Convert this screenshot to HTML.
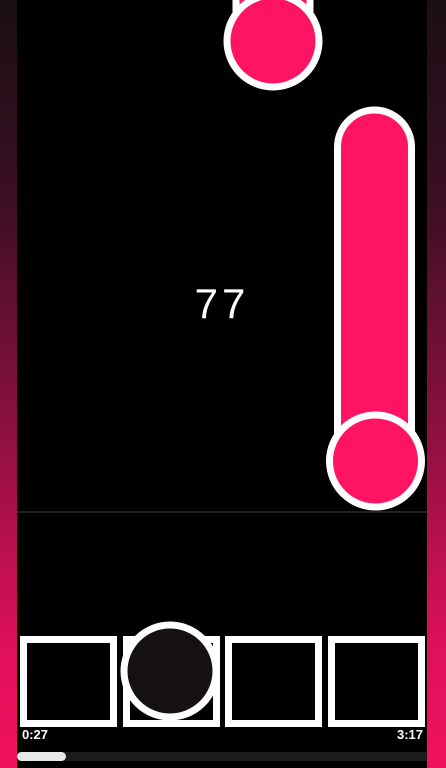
<!DOCTYPE html>
<html><head><meta charset="utf-8"><style>
html,body{margin:0;padding:0;width:446px;height:768px;overflow:hidden;background:#000}
#side{position:absolute;left:0;top:0;width:446px;height:768px;background:linear-gradient(#1a0f14 0%,#3a0f22 25%,#8a1040 55%,#e0105a 85%,#f0125f 100%)}
#lane{position:absolute;left:17px;top:0;width:410px;height:768px;background:#000}
.t{position:absolute;font-family:"Liberation Sans",sans-serif;color:#fff}
</style></head><body>
<div id="side"></div>
<div id="lane"></div>
<svg width="446" height="768" style="position:absolute;left:0;top:0">
<line x1="17" y1="512" x2="427" y2="512" stroke="#444" stroke-width="1"/>
<g>
<rect x="236" y="-20" width="74" height="60" fill="#ff1464" stroke="#fff" stroke-width="7"/>
<circle cx="273" cy="41" r="46" fill="#ff1464" stroke="#fff" stroke-width="7"/>
</g>
<g>
<rect x="337.5" y="110" width="74" height="360" rx="37" fill="#ff1464" stroke="#fff" stroke-width="7"/>
<circle cx="375.5" cy="461" r="46" fill="#ff1464" stroke="#fff" stroke-width="7"/>
</g>
<g>
<rect x="23.5" y="639.5" width="90" height="84" fill="#000" stroke="#fff" stroke-width="7"/>
<rect x="126.5" y="639.5" width="90" height="84" fill="#000" stroke="#fff" stroke-width="7"/>
<rect x="228.5" y="639.5" width="90" height="84" fill="#000" stroke="#fff" stroke-width="7"/>
<rect x="331.5" y="639.5" width="90" height="84" fill="#000" stroke="#fff" stroke-width="7"/>
</g>
<circle cx="170" cy="671" r="46" fill="#151012" stroke="#fff" stroke-width="7"/>
<rect x="17" y="752" width="410" height="9" fill="#1c1c1c"/>
<rect x="17" y="752" width="49" height="9" rx="4.5" fill="#e8e8e8"/>
</svg>
<div class="t" style="left:172px;top:280px;width:100px;text-align:center;font-size:42px;letter-spacing:4px">77</div>
<div class="t" style="left:22px;top:727px;font-size:13px;font-weight:bold">0:27</div>
<div class="t" style="right:23px;top:727px;font-size:13px;font-weight:bold">3:17</div>
</body></html>
